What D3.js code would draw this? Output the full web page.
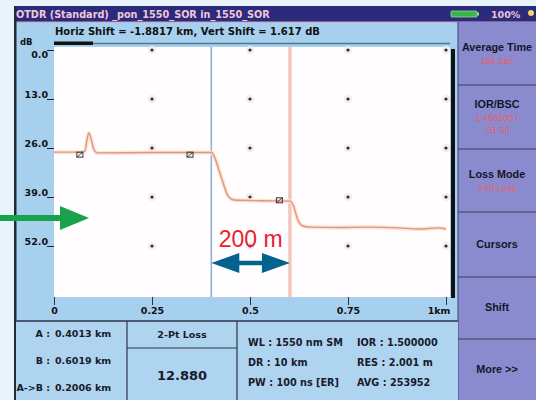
<!DOCTYPE html>
<html>
<head>
<meta charset="utf-8">
<script src="https://cdn.jsdelivr.net/npm/d3@7"></script>
<style>
  body { margin: 0; background: #e9f3fb; }
  svg { display: block; font-family: "DejaVu Sans", Verdana, sans-serif; }
</style>
</head>
<body>
<div id="chart"></div>
<script>
// trace (distance km, level dB)
const traceKm = [0, 0.066, 0.079, 0.084, 0.089, 0.094, 0.102, 0.112, 0.25, 0.403,
                 0.408, 0.429, 0.444, 0.459, 0.53, 0.602,
                 0.610, 0.622, 0.635, 0.653, 0.73, 0.80, 0.88, 0.93, 0.98, 1.0];
const traceDb = [27.1, 27.1, 26.8, 23.9, 22.0, 23.3, 26.5, 27.3, 27.2, 27.2,
                 28.1, 34.5, 38.7, 39.8, 40.0, 40.1,
                 41.1, 45.1, 46.7, 47.0, 47.1, 47.0, 47.2, 47.5, 47.2, 47.5];
const eventKm = [0.066, 0.347, 0.575];
const eventDb = [27.9, 27.9, 40.0];
const cursorA = 0.4013, cursorB = 0.6019;
const xTicks = [0, 0.25, 0.5, 0.75, 1];
const xTickLabels = ["0", "0.25", "0.5", "0.75", "1km"];
const yTicks = [0, 13, 26, 39, 52];
const menuItems = [
  { name: "Average Time", sub: ["180 Sec"] },
  { name: "IOR/BSC", sub: ["1.468200 /", "-81.50"] },
  { name: "Loss Mode", sub: ["2-Pt Loss"] },
  { name: "Cursors", sub: [] },
  { name: "Shift", sub: [] },
  { name: "More >>", sub: [] }
];
const cursorRows = [["A", "0.4013 km"], ["B", "0.6019 km"], ["A->B", "0.2006 km"]];
const infoLeft = ["WL : 1550 nm SM", "DR : 10 km", "PW : 100 ns [ER]"];
const infoRight = ["IOR : 1.500000", "RES : 2.001 m", "AVG : 253952"];

const W = 536, H = 400;
const narrow = "Liberation Sans, Arial, sans-serif";
const svg = d3.select("#chart").append("svg").attr("width", W).attr("height", H);

svg.append("rect").attr("width", W).attr("height", H).attr("fill", "#e9f3fb");

// device panels
svg.append("rect").attr("x", 14).attr("y", 6).attr("width", W - 14).attr("height", H - 6).attr("fill", "#a7cfee");
svg.append("rect").attr("x", 14).attr("y", 6).attr("width", W - 14).attr("height", 16).attr("fill", "#2b2b7c");
svg.append("line").attr("x1", 14).attr("x2", W).attr("y1", 22).attr("y2", 22).attr("stroke", "#d9a0b8").attr("stroke-width", 1);
svg.append("rect").attr("x", 14).attr("y", 6).attr("width", 2.5).attr("height", H - 6).attr("fill", "#1f2a3a");

svg.append("text").attr("x", 16).attr("y", 18).attr("fill", "#f2c6d8")
  .attr("font-size", 9.7).attr("font-weight", "bold")
  .text("OTDR (Standard) _pon_1550_SOR in_1550_SOR");

// battery and percentage
svg.append("rect").attr("x", 451).attr("y", 11).attr("width", 26).attr("height", 6).attr("rx", 1)
  .attr("fill", "#3ab54a").attr("stroke", "#9ad7a0").attr("stroke-width", 0.8);
svg.append("rect").attr("x", 477).attr("y", 12.5).attr("width", 2).attr("height", 3).attr("fill", "#9ad7a0");
svg.append("text").attr("x", 491).attr("y", 18).attr("fill", "#eec4d8")
  .attr("font-size", 9.5).attr("font-weight", "bold").text("100%");
svg.append("circle").attr("cx", 531).attr("cy", 13).attr("r", 3).attr("fill", "#f3d27a");

// right menu
const menu = svg.append("g");
menu.append("rect").attr("x", 458).attr("y", 22).attr("width", W - 458).attr("height", H - 22).attr("fill", "#8a8bce");
menu.append("line").attr("x1", 458).attr("x2", 458).attr("y1", 22).attr("y2", H).attr("stroke", "#3a3d70").attr("stroke-width", 1);
const menuSplits = [85, 149, 212, 277, 339];
menu.selectAll(".split").data(menuSplits).join("line")
  .attr("x1", 458).attr("x2", W).attr("y1", d => d).attr("y2", d => d)
  .attr("stroke", "#3a3a5a").attr("stroke-width", 1.2);
const menuTop = [22].concat(menuSplits), menuBot = menuSplits.concat([H]);
menuItems.forEach((m, i) => {
  const cy = (menuTop[i] + menuBot[i]) / 2;
  const n = m.sub.length;
  const y0 = cy - n * 6 + 3;
  menu.append("text").attr("x", 497).attr("y", y0).attr("text-anchor", "middle")
    .attr("font-family", narrow).attr("font-size", 10.8).attr("font-weight", "bold")
    .attr("fill", "#15152a").text(m.name);
  m.sub.forEach((s, j) => {
    menu.append("text").attr("x", 497).attr("y", y0 + 13 + j * 12).attr("text-anchor", "middle")
      .attr("font-family", narrow).attr("font-size", 9).attr("fill", "#ee5a5e").text(s);
  });
});

// scales
const x = d3.scaleLinear().domain([0, 1]).range([54, 446]);
const y = d3.scaleLinear().domain([0, 65]).range([50, 295]);

// shift readout and slider
svg.append("text").attr("x", 55).attr("y", 35).attr("font-size", 10).attr("font-weight", "bold")
  .attr("fill", "#111").text("Horiz Shift = -1.8817 km, Vert Shift = 1.617 dB");
svg.append("line").attr("x1", 54).attr("x2", 450).attr("y1", 43.5).attr("y2", 43.5)
  .attr("stroke", "#4d7a8c").attr("stroke-width", 1.5);
svg.append("rect").attr("x", 54).attr("y", 41.5).attr("width", 39).attr("height", 3.5).attr("fill", "#111");
svg.append("text").attr("x", 20).attr("y", 45).attr("font-size", 8.5).attr("font-weight", "bold").attr("fill", "#111").text("dB");

// plot area
const plot = svg.append("g");
plot.append("rect").attr("x", 54).attr("y", 47).attr("width", 396).attr("height", 250).attr("fill", "#fffdfd");
plot.append("rect").attr("x", 451).attr("y", 49).attr("width", 4).attr("height", 249).attr("fill", "#111");

// grid dots
const dots = [];
xTicks.slice(1).forEach(a => yTicks.forEach(b => dots.push([a, b])));
plot.selectAll(".halo").data(dots).join("circle")
  .attr("cx", d => x(d[0])).attr("cy", d => y(d[1])).attr("r", 4).attr("fill", "#f6ecec");
plot.selectAll(".dot").data(dots).join("circle")
  .attr("cx", d => x(d[0])).attr("cy", d => y(d[1])).attr("r", 1.6).attr("fill", "#263040");

// cursors
plot.append("line").attr("x1", x(cursorA)).attr("x2", x(cursorA)).attr("y1", 47).attr("y2", 297)
  .attr("stroke", "#8fb2dc").attr("stroke-width", 1.6);
plot.append("line").attr("x1", x(cursorB)).attr("x2", x(cursorB)).attr("y1", 47).attr("y2", 297)
  .attr("stroke", "#eab2a0").attr("stroke-width", 3);
plot.append("line").attr("x1", x(cursorB)).attr("x2", x(cursorB)).attr("y1", 47).attr("y2", 297)
  .attr("stroke", "#fbe6de").attr("stroke-width", 0.8);

// trace
const trace = traceKm.map((k, i) => ({ km: k, db: traceDb[i] }));
const line = d3.line().x(d => x(d.km)).y(d => y(d.db)).curve(d3.curveMonotoneX);
plot.append("path").datum(trace).attr("d", line).attr("fill", "none")
  .attr("stroke", "#fae3d9").attr("stroke-width", 4).attr("stroke-linejoin", "round");
plot.append("path").datum(trace).attr("d", line).attr("fill", "none")
  .attr("stroke", "#e6957a").attr("stroke-width", 1.4).attr("stroke-linejoin", "round");

// event markers
const ev = plot.selectAll(".ev").data(eventKm).join("g")
  .attr("transform", (d, i) => `translate(${x(d)},${y(eventDb[i])})`);
ev.append("rect").attr("x", -3).attr("y", -3).attr("width", 6).attr("height", 5)
  .attr("fill", "none").attr("stroke", "#333").attr("stroke-width", 1);
ev.append("line").attr("x1", -3).attr("y1", 2).attr("x2", 3).attr("y2", -3)
  .attr("stroke", "#333").attr("stroke-width", 0.9);

// axes
const yAxis = d3.axisLeft(y).tickValues(yTicks).tickSize(7).tickFormat(d3.format(".1f"));
const yG = svg.append("g").attr("transform", "translate(54,0)").call(yAxis);
yG.select(".domain").remove();
yG.selectAll(".tick line").attr("stroke", "#222");
yG.selectAll(".tick text").attr("x", -6).attr("dy", (d, i) => i === 0 ? "0.75em" : "-0.15em")
  .attr("font-size", 9.5).attr("font-weight", "bold").attr("fill", "#111")
  .attr("font-family", "DejaVu Sans, Verdana, sans-serif");

const xAxis = d3.axisBottom(x).tickValues(xTicks).tickSize(8).tickFormat((d, i) => xTickLabels[i]);
const xG = svg.append("g").attr("transform", "translate(0,297)").call(xAxis);
xG.select(".domain").remove();
xG.selectAll(".tick line").attr("stroke", "#334");
xG.selectAll(".tick text").attr("y", 10).attr("font-size", 9.5).attr("font-weight", "bold").attr("fill", "#111")
  .attr("font-family", "DejaVu Sans, Verdana, sans-serif")
  .attr("text-anchor", (d, i) => i === xTicks.length - 1 ? "end" : "middle")
  .attr("dx", (d, i) => i === xTicks.length - 1 ? 4 : 0);

// bottom info cells
const info = svg.append("g");
info.append("rect").attr("x", 16).attr("y", 321).attr("width", 442).attr("height", 79).attr("fill", "#aed4f0");
info.append("line").attr("x1", 16).attr("x2", 458).attr("y1", 321).attr("y2", 321).attr("stroke", "#2a3448").attr("stroke-width", 1.5);
info.append("line").attr("x1", 127).attr("x2", 127).attr("y1", 321).attr("y2", H).attr("stroke", "#2a3448").attr("stroke-width", 1.2);
info.append("line").attr("x1", 237).attr("x2", 237).attr("y1", 321).attr("y2", H).attr("stroke", "#2a3448").attr("stroke-width", 1.2);
info.append("line").attr("x1", 127).attr("x2", 237).attr("y1", 348).attr("y2", 348).attr("stroke", "#2a3448").attr("stroke-width", 1.2);

cursorRows.forEach((r, i) => {
  const yy = 337 + i * 27;
  info.append("text").attr("x", 50).attr("y", yy).attr("text-anchor", "end")
    .attr("font-size", 9.5).attr("font-weight", "bold").attr("fill", "#1a1a2a").text(r[0] + " :");
  info.append("text").attr("x", 55).attr("y", yy).attr("font-size", 9.5).attr("font-weight", "bold")
    .attr("fill", "#1a1a2a").text(r[1]);
});
info.append("text").attr("x", 182).attr("y", 338).attr("text-anchor", "middle")
  .attr("font-size", 9.5).attr("font-weight", "bold").attr("fill", "#1a1a2a").text("2-Pt Loss");
info.append("text").attr("x", 182).attr("y", 380).attr("text-anchor", "middle")
  .attr("font-size", 13).attr("font-weight", "bold").attr("fill", "#1a1a2a").text("12.880");
infoLeft.forEach((t, i) => {
  info.append("text").attr("x", 248).attr("y", 346 + i * 20).attr("font-size", 9.7).attr("font-weight", "bold")
    .attr("fill", "#1a1a2a").text(t);
});
infoRight.forEach((t, i) => {
  info.append("text").attr("x", 357).attr("y", 346 + i * 20).attr("font-size", 9.7).attr("font-weight", "bold")
    .attr("fill", "#1a1a2a").text(t);
});

// annotations
svg.append("line").attr("x1", 0).attr("x2", 64).attr("y1", 218).attr("y2", 218)
  .attr("stroke", "#18a34a").attr("stroke-width", 6);
svg.append("path").attr("d", d3.line()([[60, 206], [89, 218], [60, 230]])).attr("fill", "#18a34a");

const ax0 = x(cursorA), ax1 = x(cursorB), ay = 263;
svg.append("line").attr("x1", ax0 + 20).attr("x2", ax1 - 20).attr("y1", ay).attr("y2", ay)
  .attr("stroke", "#04628f").attr("stroke-width", 4.5);
svg.append("path").attr("d", d3.line()([[ax0, ay], [ax0 + 28, ay - 10], [ax0 + 28, ay + 10]])).attr("fill", "#04628f");
svg.append("path").attr("d", d3.line()([[ax1, ay], [ax1 - 28, ay - 10], [ax1 - 28, ay + 10]])).attr("fill", "#04628f");
svg.append("text").attr("x", (ax0 + ax1) / 2).attr("y", 247).attr("text-anchor", "middle")
  .attr("font-family", narrow).attr("font-size", 23).attr("fill", "#e8222b").text("200 m");
</script>
</body>
</html>
